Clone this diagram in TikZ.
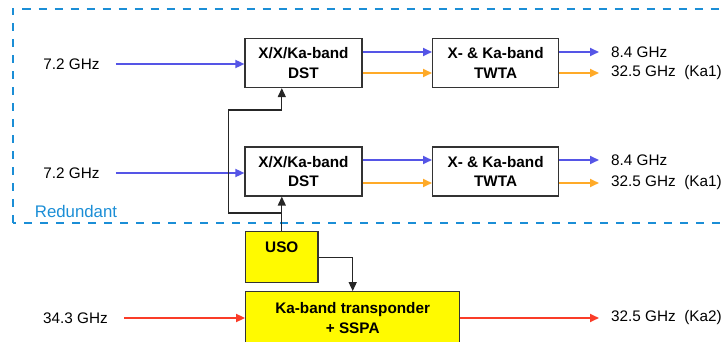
\documentclass[tikz,border=0pt]{standalone}
\usepackage{fontspec}
\setmainfont{Liberation Sans}
\usetikzlibrary{positioning,arrows.meta,calc}

\definecolor{xband}{RGB}{85,85,230}
\definecolor{kaone}{RGB}{255,170,40}
\definecolor{katwo}{RGB}{250,60,40}
\definecolor{redund}{RGB}{27,142,214}
\definecolor{usoyel}{RGB}{255,250,0}

\begin{document}
\begin{tikzpicture}[x=1pt,y=-1pt,
  unit/.style={rectangle,draw=black!80,line width=1.2pt,fill=#1,align=center,inner sep=0pt,font=\fontsize{15.3}{19.5}\selectfont\bfseries},
  unit/.default=white,
  sig/.style={font=\fontsize{15.3}{19.5}\selectfont,inner xsep=12pt,inner ysep=2pt},
  feed/.style={->,>={Triangle[length=9pt,width=8pt]},line width=1.7pt,#1},
  ctl/.style={->,>={Triangle[length=9pt,width=8pt]},line width=1.3pt,black!85},
]
\useasboundingbox (0,0) rectangle (724,342);

% === Redundant chain frame ===
\draw[redund,line width=2pt,dash pattern=on 8pt off 8pt] (12.5,223) rectangle (760,9);
\node[sig,inner xsep=0pt,font=\fontsize{16.8}{20}\selectfont,text=redund] (redlbl) at (76,211) {Redundant};

% === Upper chain ===
\node[unit,minimum width=117pt,minimum height=49pt] (dstA) at (303.5,63) {X/X/Ka-band\\DST};
\node[unit,minimum width=126pt,minimum height=49pt] (twtaA) at (495.6,63) {X- \& Ka-band\\TWTA};
\node[sig] (inA) at (71.5,64) {7.2 GHz};
\node[sig,anchor=west] (outXA) at (599,52) {8.4 GHz};
\node[sig,anchor=west] (outKaA) at (599,73) {32.5 GHz\ \ (Ka1)};

\draw[feed=xband,shorten <=4pt] (inA.east) -- (inA.east -| dstA.west);
\draw[feed=xband] (dstA.east |- outXA.west) -- (twtaA.west |- outXA.west);
\draw[feed=kaone] (dstA.east |- outKaA.west) -- (twtaA.west |- outKaA.west);
\draw[feed=xband] (twtaA.east |- outXA.west) -- (outXA.west);
\draw[feed=kaone] (twtaA.east |- outKaA.west) -- (outKaA.west);

% === Lower chain ===
\node[unit,minimum width=117pt,minimum height=49pt] (dstB) at (303.5,171.5) {X/X/Ka-band\\DST};
\node[unit,minimum width=126pt,minimum height=49pt] (twtaB) at (495.6,171.5) {X- \& Ka-band\\TWTA};
\node[sig] (inB) at (71.5,173) {7.2 GHz};
\node[sig,anchor=west] (outXB) at (599,160) {8.4 GHz};
\node[sig,anchor=west] (outKaB) at (599,183) {32.5 GHz\ \ (Ka1)};

\draw[feed=xband,shorten <=4pt] (inB.east) -- (inB.east -| dstB.west);
\draw[feed=xband] (dstB.east |- outXB.west) -- (twtaB.west |- outXB.west);
\draw[feed=kaone] (dstB.east |- outKaB.west) -- (twtaB.west |- outKaB.west);
\draw[feed=xband] (twtaB.east |- outXB.west) -- (outXB.west);
\draw[feed=kaone] (twtaB.east |- outKaB.west) -- (outKaB.west);

% === USO reference ===
\node[unit=usoyel,minimum width=72.5pt,minimum height=51pt] (uso) at (281.8,257.3) {USO\\\mbox{}};
\coordinate (tap) at (uso.north |- 0,213);

\draw[ctl] (uso.north) -- (uso.north |- dstB.south);
\draw[ctl] (tap) -- ++(-53,0) -- ++(0,-103) -| (dstA.south -| tap);

% === Ka-band transponder ===
\node[unit=usoyel,minimum width=214pt,minimum height=52.6pt] (ktr) at (352.7,318) {Ka-band transponder\\+ SSPA};
\node[sig] (inKa) at (75.5,318) {34.3 GHz};
\node[sig,anchor=west] (outKa) at (599,318) {32.5 GHz\ \ (Ka2)};

\draw[ctl] (uso.east) -| (ktr.north);
\draw[feed=katwo,shorten <=4pt] (inKa.east) -- (inKa.east -| ktr.west);
\draw[feed=katwo] (ktr.east) -- (outKa.west);

\end{tikzpicture}
\end{document}
